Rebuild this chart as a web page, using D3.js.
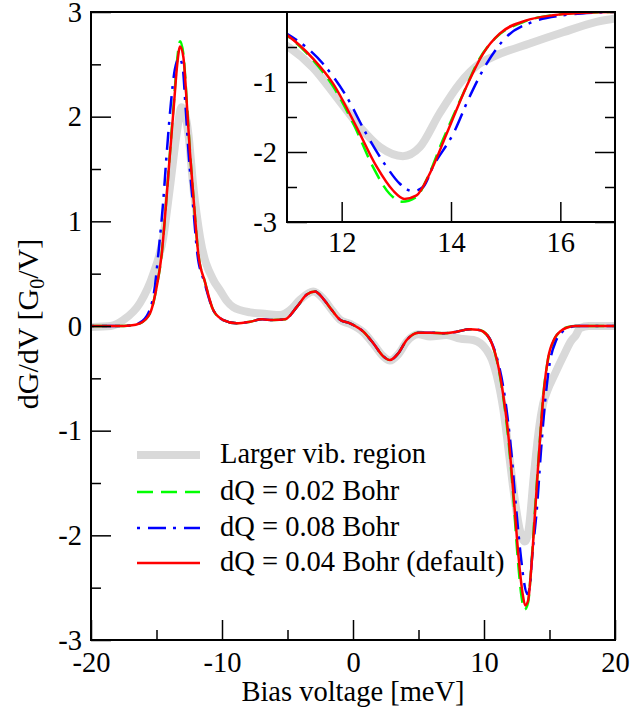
<!DOCTYPE html>
<html>
<head>
<meta charset="utf-8">
<script src="https://cdn.jsdelivr.net/npm/d3@7"></script>
<style>
  body { margin: 0; background: #fff; }
  svg { display: block; font-family: "Liberation Serif", "Times New Roman", serif; }
</style>
</head>
<body>
<svg width="630" height="713"></svg>
<script>
// dG/dV curves, [bias meV, dG/dV in G0/V]
const larger_vib = [[-20,-0.01],[-18.5,0.0],[-17.53,0.057],[-16.26,0.22],[-15.24,0.5],[-14.48,0.85],[-13.97,1.33],[-13.46,1.84],[-13.08,2.09],[-12.57,1.84],[-12.19,1.33],[-11.68,0.85],[-10.66,0.44],[-10.15,0.34],[-9.64,0.24],[-9.14,0.18],[-7.86,0.13],[-6.59,0.115],[-5.57,0.105],[-4.81,0.15],[-4.05,0.25],[-3.03,0.33],[-2.27,0.26],[-1.6,0.15],[-0.99,0.06],[-0.23,0.02],[0.79,-0.06],[1.55,-0.17],[2.31,-0.29],[2.82,-0.33],[3.46,-0.27],[4.1,-0.15],[4.99,-0.08],[5.88,-0.1],[7.15,-0.086],[8.17,-0.12],[9.18,-0.134],[10.2,-0.23],[10.6,-0.32],[10.97,-0.47],[11.48,-0.8],[11.9,-1.21],[12.33,-1.64],[12.7,-1.93],[13.12,-2.06],[13.43,-1.93],[13.79,-1.45],[14.16,-1.02],[14.52,-0.74],[14.83,-0.62],[15.44,-0.45],[16.05,-0.29],[16.66,-0.14],[17,-0.09],[17.33,-0.02],[18,0],[20,0]];

const dq_002 = [[-20,0],[-18,0],[-17,0.005],[-16.26,0.026],[-15.5,0.12],[-14.98,0.38],[-14.6,0.69],[-14.27,1.17],[-13.97,1.66],[-13.66,2.16],[-13.41,2.56],[-13.2,2.72],[-12.95,2.6],[-12.69,2.15],[-12.44,1.66],[-12.14,1.17],[-11.81,0.69],[-11.3,0.42],[-10.66,0.15],[-9.9,0.057],[-8.88,0.026],[-7.86,0.041],[-6.97,0.064],[-6.08,0.057],[-5.19,0.064],[-4.3,0.18],[-3.53,0.3],[-2.9,0.33],[-2.27,0.26],[-1.6,0.15],[-0.99,0.06],[-0.23,0.026],[0.79,-0.054],[1.55,-0.165],[2.31,-0.29],[2.82,-0.325],[3.46,-0.26],[4.1,-0.134],[4.99,-0.064],[5.88,-0.064],[7.02,-0.07],[7.92,-0.054],[8.93,-0.032],[9.5,-0.035],[9.95,-0.054],[10.59,-0.165],[11.0,-0.34],[11.48,-0.69],[11.84,-1.06],[12.24,-1.64],[12.57,-2.21],[12.88,-2.6],[13.1,-2.71],[13.37,-2.64],[13.55,-2.4],[13.85,-1.83],[14.22,-1.17],[14.52,-0.67],[14.83,-0.36],[15.33,-0.14],[15.87,-0.045],[16.35,-0.012],[17,0],[20,0]];

const dq_008 = [[-20,0],[-18,0],[-17,0.006],[-16.3,0.03],[-15.6,0.13],[-15.1,0.4],[-14.86,0.69],[-14.5,1.17],[-14.22,1.65],[-13.9,2.13],[-13.6,2.45],[-13.26,2.56],[-13.0,2.47],[-12.8,2.13],[-12.55,1.65],[-12.22,1.17],[-11.88,0.69],[-11.35,0.42],[-10.66,0.15],[-9.9,0.057],[-8.88,0.026],[-7.86,0.041],[-6.97,0.064],[-6.08,0.057],[-5.19,0.064],[-4.3,0.18],[-3.53,0.3],[-2.9,0.33],[-2.27,0.26],[-1.6,0.15],[-0.99,0.06],[-0.23,0.026],[0.79,-0.054],[1.55,-0.165],[2.31,-0.29],[2.82,-0.325],[3.46,-0.26],[4.1,-0.134],[4.99,-0.064],[5.88,-0.064],[7.02,-0.07],[7.92,-0.054],[8.93,-0.032],[9.5,-0.035],[9.95,-0.054],[10.59,-0.16],[11.0,-0.31],[11.66,-0.74],[12.09,-1.21],[12.45,-1.74],[12.82,-2.21],[13.06,-2.45],[13.3,-2.56],[13.49,-2.5],[13.67,-2.21],[14.04,-1.74],[14.34,-1.21],[14.65,-0.74],[15.01,-0.36],[15.5,-0.14],[16.05,-0.047],[16.6,-0.01],[17,0],[20,0]];

const dq_004 = [[-20,0],[-18,0],[-17,0.005],[-16.26,0.026],[-15.5,0.12],[-14.98,0.38],[-14.6,0.69],[-14.27,1.17],[-13.97,1.65],[-13.66,2.13],[-13.41,2.51],[-13.2,2.67],[-12.95,2.57],[-12.69,2.13],[-12.44,1.65],[-12.14,1.17],[-11.81,0.69],[-11.3,0.42],[-10.66,0.15],[-9.9,0.057],[-8.88,0.026],[-7.86,0.041],[-6.97,0.064],[-6.08,0.057],[-5.19,0.064],[-4.3,0.18],[-3.53,0.3],[-2.9,0.33],[-2.27,0.26],[-1.6,0.15],[-0.99,0.06],[-0.23,0.026],[0.79,-0.054],[1.55,-0.165],[2.31,-0.29],[2.82,-0.325],[3.46,-0.26],[4.1,-0.134],[4.99,-0.064],[5.88,-0.064],[7.02,-0.07],[7.92,-0.054],[8.93,-0.032],[9.5,-0.035],[9.95,-0.054],[10.59,-0.165],[11.0,-0.33],[11.48,-0.67],[11.84,-1.02],[12.27,-1.64],[12.64,-2.21],[12.94,-2.55],[13.15,-2.67],[13.37,-2.62],[13.61,-2.31],[13.92,-1.74],[14.28,-1.07],[14.59,-0.59],[14.89,-0.31],[15.38,-0.12],[15.87,-0.047],[16.35,-0.014],[17,0],[20,0]];

const series_labels = ['Larger vib. region', 'dQ = 0.02 Bohr', 'dQ = 0.08 Bohr', 'dQ = 0.04 Bohr (default)'];
const series_data = [larger_vib, dq_002, dq_008, dq_004];
const series_style = [
    {color: '#d9d9d9', width: 8, dash: null},
    {color: '#00ff00', width: 2.5, dash: '16,8'},
    {color: '#0000ff', width: 2.5, dash: '3,8,18,7'},
    {color: '#ff0000', width: 2.5, dash: null}
];

const main_xticks = [-20, -10, 0, 10, 20];
const main_xminor = [-15, -5, 5, 15];
const main_yticks = [-3, -2, -1, 0, 1, 2, 3];
const main_yminor = [-2.5, -1.5, -0.5, 0.5, 1.5, 2.5];
const inset_xticks = [12, 14, 16];
const inset_yticks = [-1, -2, -3];
const inset_yminor = [-0.5, -1.5, -2.5];

const svg = d3.select('svg');
const FONT = 28.5;

// main plot
const x = d3.scaleLinear().domain([-20, 20]).range([91, 615]);
const y = d3.scaleLinear().domain([-3, 3]).range([640, 12]);

svg.append('clipPath').attr('id', 'clip_main')
    .append('rect').attr('x', 91).attr('y', 12).attr('width', 524).attr('height', 628);

function draw_curves(g, xs, ys) {
    const line = d3.line()
        .x(d => xs(d[0]))
        .y(d => ys(d[1]))
        .curve(d3.curveMonotoneX);
    series_data.forEach(function(data, i) {
        const st = series_style[i];
        g.append('path')
            .datum(data)
            .attr('d', line)
            .attr('fill', 'none')
            .attr('stroke', st.color)
            .attr('stroke-width', st.width)
            .attr('stroke-linejoin', 'round')
            .attr('stroke-dasharray', st.dash);
    });
}

const main_g = svg.append('g').attr('clip-path', 'url(#clip_main)');
draw_curves(main_g, x, y);

function style_axis(g) {
    g.select('.domain').remove();
    g.selectAll('line').attr('stroke', '#000').attr('stroke-width', 1.5);
    g.selectAll('text').attr('font-size', FONT).attr('fill', '#000')
        .attr('font-family', '"Liberation Serif", serif');
}

const fmt = d => String(d);

svg.append('g').attr('transform', 'translate(91,0)')
    .call(d3.axisLeft(y).tickValues(main_yticks).tickSize(-20).tickPadding(9).tickFormat(fmt))
    .call(style_axis);
svg.append('g').attr('transform', 'translate(91,0)')
    .call(d3.axisLeft(y).tickValues(main_yminor).tickSize(-10).tickFormat(''))
    .call(style_axis);
svg.append('g').attr('transform', 'translate(0,640)')
    .call(d3.axisBottom(x).tickValues(main_xticks).tickSize(-20).tickPadding(12).tickFormat(fmt))
    .call(style_axis);
svg.append('g').attr('transform', 'translate(0,640)')
    .call(d3.axisBottom(x).tickValues(main_xminor).tickSize(-10).tickFormat(''))
    .call(style_axis);

svg.append('rect')
    .attr('x', 91).attr('y', 12).attr('width', 524).attr('height', 628)
    .attr('fill', 'none').attr('stroke', '#000').attr('stroke-width', 2);

// axis titles
svg.append('text')
    .attr('x', 353).attr('y', 701)
    .attr('text-anchor', 'middle')
    .attr('font-size', FONT)
    .text('Bias voltage [meV]');

const ytitle = svg.append('text')
    .attr('transform', 'translate(38,324) rotate(-90)')
    .attr('text-anchor', 'middle')
    .attr('font-size', 30);
ytitle.append('tspan').text('dG/dV [G');
ytitle.append('tspan').attr('font-size', 20).attr('dy', 6).text('0');
ytitle.append('tspan').attr('dy', -6).text('/V]');

// legend
const legend = svg.append('g');
const legend_rows = [455, 492, 528, 563];
series_labels.forEach(function(label, i) {
    const st = series_style[i];
    legend.append('line')
        .attr('x1', 137).attr('x2', 200)
        .attr('y1', legend_rows[i]).attr('y2', legend_rows[i])
        .attr('stroke', st.color)
        .attr('stroke-width', st.width)
        .attr('stroke-dasharray', st.dash);
    legend.append('text')
        .attr('x', 220).attr('y', legend_rows[i] + 8)
        .attr('font-size', FONT)
        .text(label);
});

// inset
const ix = d3.scaleLinear().domain([11, 17]).range([287, 615]);
const iy = d3.scaleLinear().domain([-3, 0]).range([222, 12]);

svg.append('rect')
    .attr('x', 287).attr('y', 12).attr('width', 328).attr('height', 210)
    .attr('fill', '#fff');
svg.append('clipPath').attr('id', 'clip_inset')
    .append('rect').attr('x', 287).attr('y', 12).attr('width', 328).attr('height', 210);
const inset_g = svg.append('g').attr('clip-path', 'url(#clip_inset)');
draw_curves(inset_g, ix, iy);

svg.append('g').attr('transform', 'translate(287,0)')
    .call(d3.axisLeft(iy).tickValues(inset_yticks).tickSize(-20).tickPadding(10).tickFormat(fmt))
    .call(style_axis);
svg.append('g').attr('transform', 'translate(287,0)')
    .call(d3.axisLeft(iy).tickValues(inset_yminor).tickSize(-10).tickFormat(''))
    .call(style_axis);
svg.append('g').attr('transform', 'translate(615,0)')
    .call(d3.axisRight(iy).tickValues(inset_yticks).tickSize(-20).tickFormat(''))
    .call(style_axis);
svg.append('g').attr('transform', 'translate(615,0)')
    .call(d3.axisRight(iy).tickValues(inset_yminor).tickSize(-10).tickFormat(''))
    .call(style_axis);
svg.append('g').attr('transform', 'translate(0,222)')
    .call(d3.axisBottom(ix).tickValues(inset_xticks).tickSize(-20).tickPadding(10).tickFormat(fmt))
    .call(style_axis);

svg.append('rect')
    .attr('x', 287).attr('y', 12).attr('width', 328).attr('height', 210)
    .attr('fill', 'none').attr('stroke', '#000').attr('stroke-width', 2);
</script>
</body>
</html>
